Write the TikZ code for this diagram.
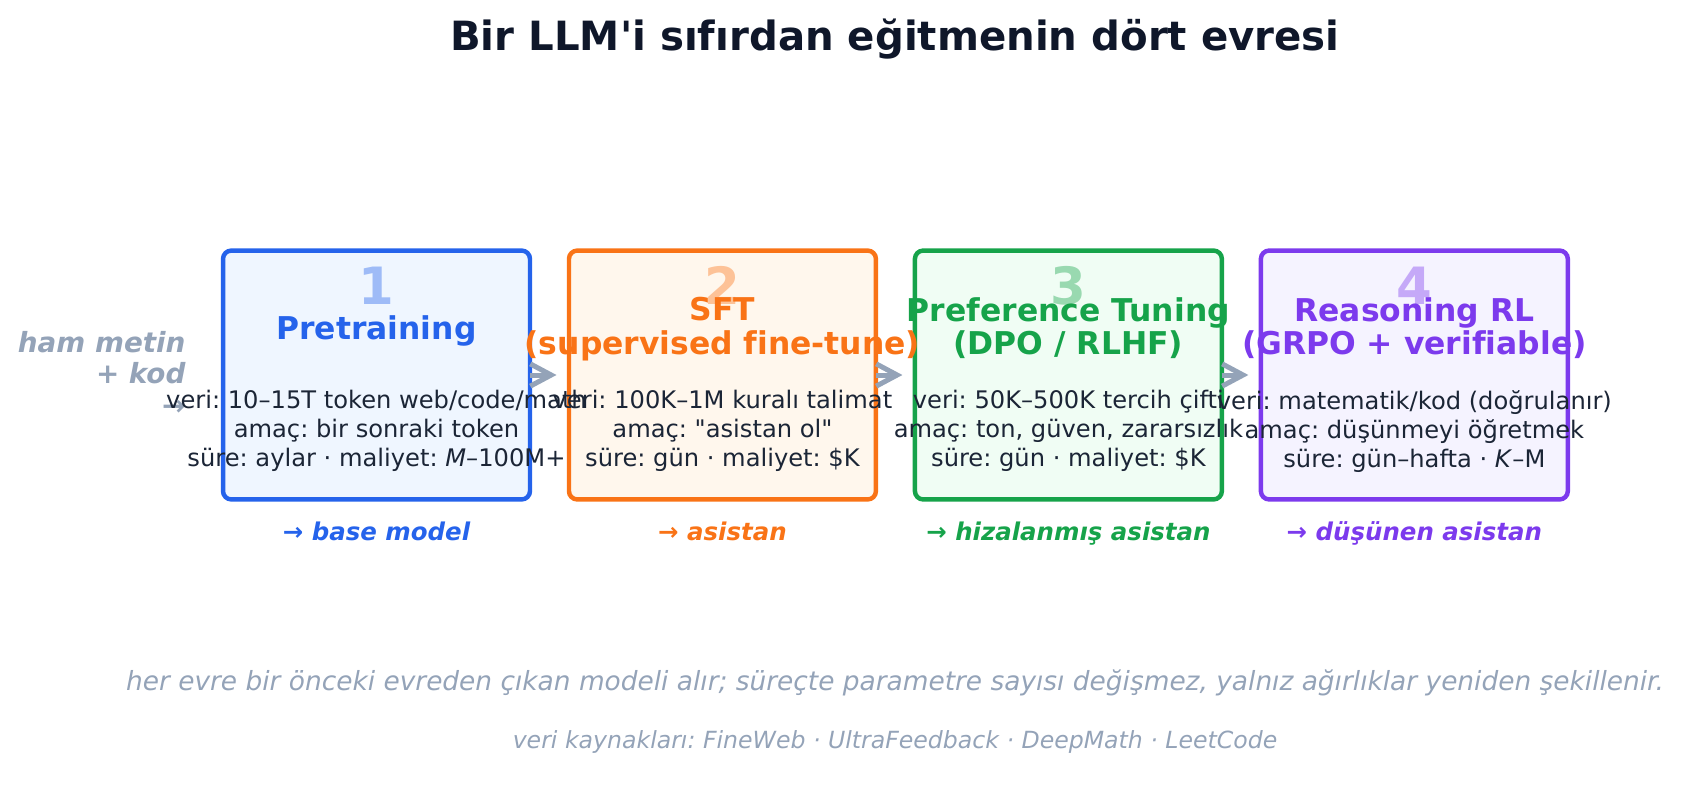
\documentclass[tikz,border=0pt]{standalone}
\usepackage{fontspec}
\setmainfont{DejaVu Sans}[Ligatures={TeXOff,CommonOff},ItalicFont={DejaVu Sans Oblique},BoldItalicFont={DejaVu Sans Bold Oblique}]
\usetikzlibrary{arrows.meta,positioning}
\frenchspacing

\definecolor{pretrain}{HTML}{2563EB}
\definecolor{pretrainfill}{HTML}{EFF6FF}
\definecolor{sft}{HTML}{F97316}
\definecolor{sftfill}{HTML}{FFF7ED}
\definecolor{pref}{HTML}{16A34A}
\definecolor{preffill}{HTML}{F0FDF4}
\definecolor{reason}{HTML}{7C3AED}
\definecolor{reasonfill}{HTML}{F5F3FF}
\definecolor{ink}{HTML}{1B2536}
\definecolor{titleink}{HTML}{0F172A}
\definecolor{muted}{HTML}{94A3B8}

\tikzset{
 stagebox/.style={rectangle, rounded corners=3pt, minimum width=110.5pt, minimum height=89.6pt, line width=1.6pt, outer sep=0pt, draw=#1, fill=#1fill},
 stagenum/.style={anchor=base, inner sep=0pt, font=\fontsize{18.5}{19}\selectfont\bfseries, text=#1!40!#1fill},
 stagetitle/.style={anchor=north, inner sep=0pt, align=center, font=\fontsize{11.3}{12}\selectfont\bfseries, text=#1},
 stagebody/.style={anchor=north, inner sep=0pt, align=center, font=\fontsize{8.7}{10.45}\selectfont, text=ink},
 stageout/.style={anchor=base, inner sep=0pt, font=\fontsize{8.8}{10}\selectfont\bfseries\itshape, text=#1},
 flow/.style={draw=muted, line width=1.8pt, -{Straight Barb[length=7.5pt,width=8pt]}, shorten >=4.5pt}
}

\begin{document}
\begin{tikzpicture}[x=0.36pt, y=-0.36pt]
\useasboundingbox (0,0) rectangle (1685,811);

\node[anchor=base, inner sep=0pt, font=\fontsize{14.5}{16}\selectfont\bfseries, text=titleink] (title) at (895,50)
 {Bir LLM'i sıfırdan eğitmenin dört evresi};

\node[stagebox=pretrain] (stage1) at (376.5,375) {};
\node[stagebox=sft, right=14.04pt of stage1] (stage2) {};
\node[stagebox=pref, right=14.04pt of stage2] (stage3) {};
\node[stagebox=reason, right=14.04pt of stage3] (stage4) {};

\draw[flow] (stage1) -- (stage2);
\draw[flow] (stage2) -- (stage3);
\draw[flow] (stage3) -- (stage4);

\node[anchor=north east, align=right, inner sep=0pt, font=\fontsize{10}{11.4}\selectfont\bfseries\itshape, text=muted] (input) at (186,330.6)
 {ham metin\\+ kod\\→};

\node[stagenum=pretrain] (num1) at (stage1 |- 0,304) {1};
\node[stagenum=sft] (num2) at (stage2 |- 0,304) {2};
\node[stagenum=pref] (num3) at (stage3 |- 0,304) {3};
\node[stagenum=reason] (num4) at (stage4 |- 0,304) {4};

\node[stagetitle=pretrain] (title1) at (stage1 |- 0,315.4) {Pretraining};
\node[stagetitle=sft] (title2) at (stage2 |- 0,297) {SFT\\(supervised fine-tune)};
\node[stagetitle=pref] (title3) at (stage3 |- 0,297) {Preference Tuning\\(DPO / RLHF)};
\node[stagetitle=reason] (title4) at (stage4 |- 0,297) {Reasoning RL\\(GRPO + verifiable)};

\node[stagebody] (body1) at (stage1 |- 0,390)
 {veri: 10–15T token web/code/math\\amaç: bir sonraki token\\süre: aylar · maliyet: \textit{M}–100M+};
\node[stagebody] (body2) at (stage2 |- 0,390)
 {veri: 100K–1M kuralı talimat\\amaç: "asistan ol"\\süre: gün · maliyet: \$K};
\node[stagebody] (body3) at (stage3 |- 0,390)
 {veri: 50K–500K tercih çifti\\amaç: ton, güven, zararsızlık\\süre: gün · maliyet: \$K};
\node[stagebody] (body4) at (stage4 |- 0,390)
 {veri: matematik/kod (doğrulanır)\\amaç: düşünmeyi öğretmek\\süre: gün–hafta · \textit{K}–M};

\node[stageout=pretrain] (out1) at (stage1 |- 0,540) {→ base model};
\node[stageout=sft] (out2) at (stage2 |- 0,540) {→ asistan};
\node[stageout=pref] (out3) at (stage3 |- 0,540) {→ hizalanmış asistan};
\node[stageout=reason] (out4) at (stage4 |- 0,540) {→ düşünen asistan};

\node[anchor=base, inner sep=0pt, font=\fontsize{9.5}{11}\selectfont\itshape, text=muted] (note) at (895,690)
 {her evre bir önceki evreden çıkan modeli alır; süreçte parametre sayısı değişmez, yalnız ağırlıklar yeniden şekillenir.};
\node[anchor=base, inner sep=0pt, font=\fontsize{8.5}{10}\selectfont\itshape, text=muted] (sources) at (895,748.3)
 {veri kaynakları: FineWeb · UltraFeedback · DeepMath · LeetCode};
\end{tikzpicture}
\end{document}
